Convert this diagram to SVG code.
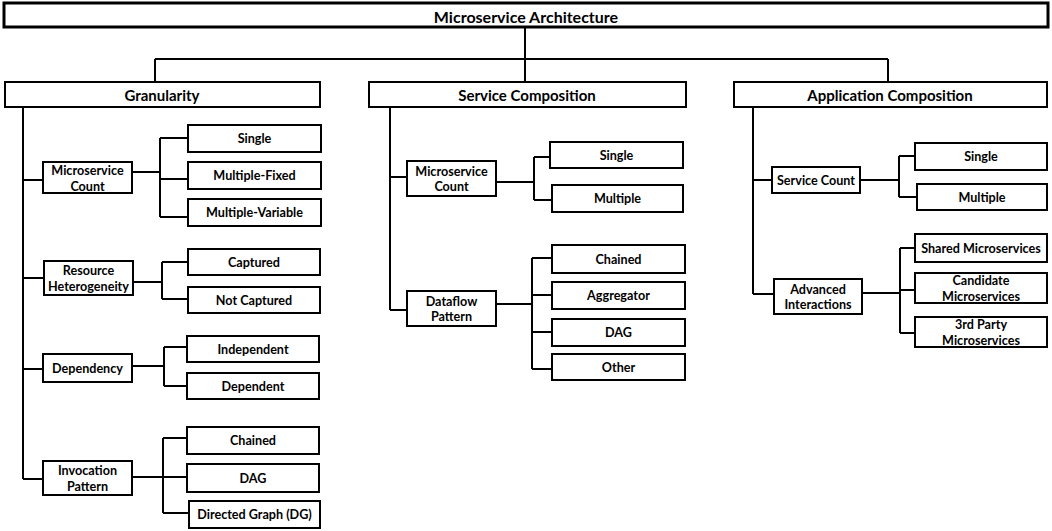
<svg xmlns="http://www.w3.org/2000/svg" width="1052" height="531" viewBox="0 0 1052 531">
<style>
rect{fill:#fff;stroke:#000;stroke-width:2}
.top{stroke-width:3}
text{font-family:Lato,"Liberation Sans",sans-serif;font-weight:bold;font-size:12.6px;fill:#000;text-anchor:middle;dominant-baseline:central}
.h{font-size:15px}
.t{font-size:16px}
#connectors path{fill:none;stroke:#000;stroke-width:2}
</style>
<rect x="0" y="0" width="1052" height="531" style="fill:#fff;stroke:none"/>
<g id="connectors">
<path d="M525 28V82M155 59H888M155 59V82M888 59V82"/>
<path d="M23 107V479M23 180H43M23 278H44M23 369H43M23 479H43"/>
<path d="M132 172H160M160 138V217M160 138H188M160 179H188M160 217H188"/>
<path d="M133 282H162M162 262V299M162 262H188M162 299H188"/>
<path d="M132 366H164M164 347V386M164 347H187M164 386H187"/>
<path d="M132 477H163M163 438V513M163 438H187M163 477H187M163 513H189"/>
<path d="M390 107V310M390 177H407M390 310H407"/>
<path d="M496 182H534M534 157V200M534 157H550M534 200H552"/>
<path d="M496 304H532M532 258V369M532 258H552M532 295H552M532 332H552M532 369H552"/>
<path d="M753 107V294M753 180H772M753 294H774"/>
<path d="M860 180H899M899 156V197M899 156H915M899 197H917"/>
<path d="M862 293H900M900 248V333M900 248H915M900 290H915M900 333H915"/>
</g>
<g id="root"><rect class="top" x="4" y="3" width="1044" height="24"/><text class="t" x="526" y="16">Microservice Architecture</text></g>
<g id="granularity"><rect x="5" y="82" width="315" height="25"/><text class="h" x="162" y="95">Granularity</text></g>
<g id="service-composition"><rect x="369" y="82" width="317" height="25"/><text class="h" x="527" y="95">Service Composition</text></g>
<g id="application-composition"><rect x="734" y="82" width="313" height="25"/><text class="h" x="890" y="95">Application Composition</text></g>

<g id="g-mc"><rect x="43" y="162" width="89" height="31"/><text x="87.5" y="170.5">Microservice</text><text x="87.5" y="186">Count</text></g>
<g id="g-mc-single"><rect x="188" y="125" width="133" height="27"/><text x="254.5" y="138.5">Single</text></g>
<g id="g-mc-mf"><rect x="188" y="162" width="133" height="27"/><text x="254.5" y="175.5">Multiple-Fixed</text></g>
<g id="g-mc-mv"><rect x="188" y="199" width="133" height="27"/><text x="254.5" y="212.5">Multiple-Variable</text></g>

<g id="g-rh"><rect x="44" y="261" width="89" height="34"/><text x="88.5" y="270">Resource</text><text x="88.5" y="286">Heterogeneity</text></g>
<g id="g-rh-cap"><rect x="188" y="249" width="132" height="26"/><text x="254" y="262">Captured</text></g>
<g id="g-rh-ncap"><rect x="188" y="287" width="132" height="26"/><text x="254" y="300">Not Captured</text></g>

<g id="g-dep"><rect x="43" y="354" width="89" height="28"/><text x="87.5" y="368">Dependency</text></g>
<g id="g-dep-ind"><rect x="187" y="336" width="132" height="26"/><text x="253" y="349">Independent</text></g>
<g id="g-dep-dep"><rect x="187" y="373" width="132" height="26"/><text x="253" y="386">Dependent</text></g>

<g id="g-ip"><rect x="43" y="461" width="89" height="34"/><text x="87.5" y="470">Invocation</text><text x="87.5" y="486">Pattern</text></g>
<g id="g-ip-ch"><rect x="187" y="427" width="132" height="27"/><text x="253" y="440.5">Chained</text></g>
<g id="g-ip-dag"><rect x="187" y="464" width="132" height="28"/><text x="253" y="478">DAG</text></g>
<g id="g-ip-dg"><rect x="189" y="501" width="131" height="27"/><text x="254.5" y="514.5">Directed Graph (DG)</text></g>

<g id="s-mc"><rect x="407" y="161" width="89" height="35"/><text x="451.5" y="171">Microservice</text><text x="451.5" y="186.5">Count</text></g>
<g id="s-mc-single"><rect x="550" y="142" width="133" height="26"/><text x="616.5" y="155">Single</text></g>
<g id="s-mc-multi"><rect x="552" y="185" width="131" height="27"/><text x="617.5" y="198.5">Multiple</text></g>

<g id="s-dp"><rect x="407" y="291" width="89" height="35"/><text x="451.5" y="301">Dataflow</text><text x="451.5" y="316.5">Pattern</text></g>
<g id="s-dp-ch"><rect x="552" y="245" width="133" height="28"/><text x="618.5" y="259">Chained</text></g>
<g id="s-dp-agg"><rect x="552" y="282" width="133" height="27"/><text x="618.5" y="295.5">Aggregator</text></g>
<g id="s-dp-dag"><rect x="552" y="319" width="133" height="27"/><text x="618.5" y="332.5">DAG</text></g>
<g id="s-dp-oth"><rect x="552" y="354" width="133" height="26"/><text x="618.5" y="367">Other</text></g>

<g id="a-sc"><rect x="772" y="167" width="88" height="26"/><text x="816" y="180">Service Count</text></g>
<g id="a-sc-single"><rect x="915" y="143" width="132" height="27"/><text x="981" y="156.5">Single</text></g>
<g id="a-sc-multi"><rect x="917" y="184" width="130" height="26"/><text x="982" y="197">Multiple</text></g>

<g id="a-ai"><rect x="774" y="279" width="88" height="35"/><text x="818" y="289">Advanced</text><text x="818" y="304.5">Interactions</text></g>
<g id="a-ai-shared"><rect x="915" y="234" width="132" height="28"/><text x="981" y="248">Shared Microservices</text></g>
<g id="a-ai-cand"><rect x="915" y="273" width="132" height="30"/><text x="981" y="280.5">Candidate</text><text x="981" y="296">Microservices</text></g>
<g id="a-ai-3rd"><rect x="915" y="317" width="132" height="30"/><text x="981" y="324.5">3rd Party</text><text x="981" y="340">Microservices</text></g>
</svg>
